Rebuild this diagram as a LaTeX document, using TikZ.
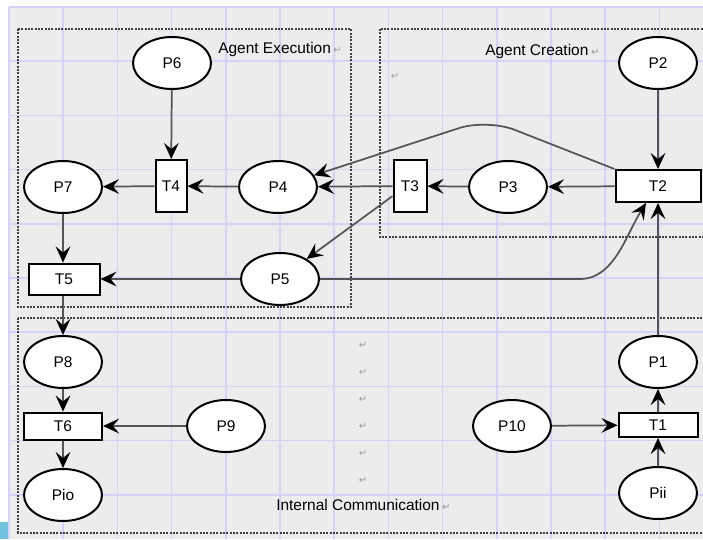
\documentclass[tikz,border=0pt]{standalone}
\usepackage{fontspec}
\setmainfont{Liberation Sans}
\newfontfamily\symfont{DejaVu Sans}
\usetikzlibrary{shapes.geometric,arrows.meta,calc}
\definecolor{bggray}{HTML}{ECECEC}
\definecolor{gridblue}{HTML}{D2D2FA}
\definecolor{edgegray}{HTML}{555555}
\definecolor{retgray}{HTML}{9A9A9A}
\definecolor{cyanbox}{HTML}{72C4DE}
\tikzset{
  place/.style={ellipse,draw=black,line width=1.5pt,fill=white,minimum width=58.5pt,minimum height=39pt,inner sep=0pt,font=\fontsize{11.6}{13}\selectfont},
  trans/.style={rectangle,draw=black,line width=1.5pt,fill=white,inner sep=0pt,font=\fontsize{11.6}{13}\selectfont},
  arc/.style={draw=edgegray,line width=1.3pt,-{Stealth[length=12pt,width=11pt,inset=4.5pt,color=black]}},
  region/.style={draw=black!75,line width=0.8pt,dash pattern=on 1.6pt off 0.9pt},
  lbl/.style={anchor=west,inner sep=0pt,font=\fontsize{11.6}{13}\selectfont},
  ret/.style={text=retgray,inner sep=0pt,font=\symfont\fontsize{7.5}{8}\selectfont}
}
\begin{document}
\begin{tikzpicture}[x=0.75pt,y=-0.75pt]
\useasboundingbox (0,0) rectangle (703,539);
\clip (0,0) rectangle (703,539);
% background
\fill[bggray] (9,7) rectangle (703,539);
\fill[cyanbox] (0,522) rectangle (8,539);
% grid
\foreach \k in {0,...,12} {
  \draw[gridblue,line width=1.1pt] ({9+54.2*\k},7) -- ({9+54.2*\k},539);
}
\foreach \k in {0,...,9} {
  \draw[gridblue,line width=1.1pt] (9,{7+54.2*\k}) -- (703,{7+54.2*\k});
}
% regions
\draw[region] (18,29) rectangle (351,307);
\draw[region] (380,29) rectangle (710,237);
\draw[region] (18,318) rectangle (710,533);
% labels
\node[lbl] (lexec) at (218,50) {Agent Execution\,{\color{retgray}\symfont\fontsize{7.5}{8}\selectfont ↵}};
\node[lbl] (lcrea) at (485,51) {Agent Creation\,{\color{retgray}\symfont\fontsize{7.5}{8}\selectfont ↵}};
\node[lbl] (lcomm) at (276,505) {Internal Communication\,{\color{retgray}\symfont\fontsize{7.5}{8}\selectfont ↵}};
\node[ret] (r0) at (395,76) {↵};
\foreach \yy [count=\i] in {345,372,399,426,453,480} {
  \node[ret] (rm\i) at (363,\yy) {↵};
}
% places
\node[place] (P6) at (172,63) {P6};
\node[place] (P7) at (63,187) {P7};
\node[place] (P4) at (278,187) {P4};
\node[place] (P5) at (280,279) {P5};
\node[place] (P2) at (658,63) {P2};
\node[place] (P3) at (508,187) {P3};
\node[place] (P8) at (63,362) {P8};
\node[place] (P9) at (226,426) {P9};
\node[place] (Pio) at (63,495) {Pio};
\node[place] (P1) at (658,362) {P1};
\node[place] (P10) at (512,426) {P10};
\node[place] (Pii) at (658,493) {Pii};
% transitions
\node[trans,minimum width=23.25pt,minimum height=39pt] (T4) at (171,186) {T4};
\node[trans,minimum width=24.75pt,minimum height=39pt] (T3) at (410,186) {T3};
\node[trans,minimum width=63.75pt,minimum height=24pt] (T2) at (658,186) {T2};
\node[trans,minimum width=53.25pt,minimum height=23.25pt] (T5) at (64,279) {T5};
\node[trans,minimum width=58.5pt,minimum height=20.25pt] (T6) at (63,426) {T6};
\node[trans,minimum width=59.25pt,minimum height=18pt] (T1) at (658,425) {T1};
% arcs
\draw[arc] (P6) -- (T4);
\draw[arc] (P4) -- (T4);
\draw[arc] (T4) -- (P7);
\draw[arc] (P7.south) -- (P7.south |- T5.north);
\draw[arc] (P5) -- (T5);
\draw[arc] (T3) -- (P4);
\draw[arc] (T3.210) -- (P5.37);
\draw[arc] (T2) -- (P3);
\draw[arc] (P3) -- (T3);
\draw[arc,rounded corners=22pt] (T2.north west) -- (487,119) -- (P4.18);
\coordinate (T2in) at ($(T2.south)+(-12,0)$);
\draw[arc] (P5.east) -- (580,279) .. controls (614,279) and (626,235) .. (T2in);
\draw[arc] (P2) -- (T2);
\draw[arc] (P1) -- (T2);
\draw[arc] (T1) -- (P1);
\draw[arc] (Pii) -- (T1);
\draw[arc] (P10) -- (T1);
\draw[arc] (T5.south -| P8.north) -- (P8.north);
\draw[arc] (P8) -- (T6);
\draw[arc] (T6) -- (Pio);
\draw[arc] (P9) -- (T6);
\end{tikzpicture}
\end{document}
